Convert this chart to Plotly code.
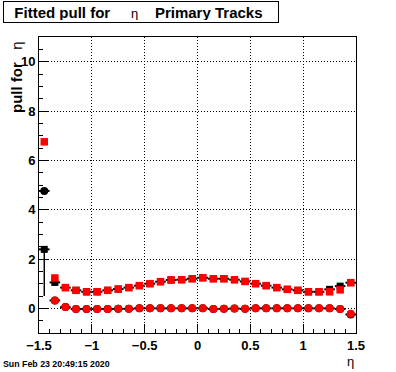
import plotly.graph_objects as go

eta = [-1.45, -1.35, -1.25, -1.15, -1.05, -0.95, -0.85, -0.75, -0.65, -0.55,
       -0.45, -0.35, -0.25, -0.15, -0.05, 0.05, 0.15, 0.25, 0.35, 0.45,
       0.55, 0.65, 0.75, 0.85, 0.95, 1.05, 1.15, 1.25, 1.35, 1.45]
eta_halfwidth = [0.05] * 30

# black: width (squares) and mean (circles), with errors
black_sigma = [2.39, 1.05, 0.84, 0.73, 0.67, 0.67, 0.73, 0.78, 0.84, 0.92,
               1.00, 1.08, 1.15, 1.16, 1.20, 1.24, 1.20, 1.20, 1.16, 1.09,
               1.00, 0.92, 0.84, 0.77, 0.73, 0.67, 0.67, 0.77, 0.90, 1.04]
black_sigma_err_minus = [1.89] + [0.0] * 29
black_mean = [4.76, 0.32, 0.05, -0.03, -0.03, -0.03, -0.03, -0.02, -0.02, 0.00,
              0.00, 0.00, 0.00, 0.00, 0.00, 0.00, -0.03, -0.02, -0.01, -0.02,
              0.00, 0.00, 0.00, 0.00, 0.00, 0.00, 0.00, 0.00, -0.03, -0.25]

# red: fitted values
red_sigma = [6.75, 1.23, 0.84, 0.73, 0.67, 0.67, 0.73, 0.78, 0.84, 0.92,
             1.00, 1.08, 1.15, 1.16, 1.20, 1.24, 1.20, 1.20, 1.16, 1.09,
             1.00, 0.92, 0.84, 0.77, 0.73, 0.67, 0.67, 0.67, 0.75, 1.04]
red_mean = [None, 0.32, 0.05, -0.03, -0.03, -0.03, -0.03, -0.02, -0.02, 0.00,
            0.00, 0.00, 0.00, 0.00, 0.00, 0.00, -0.03, -0.02, -0.01, -0.02,
            0.00, 0.00, 0.00, 0.00, 0.00, 0.00, 0.00, 0.00, -0.03, -0.22]

FONT = "Liberation Sans, Arial, Helvetica, sans-serif"

fig = go.Figure()
# downward error bars of the black width points (drawn as vertical segments)
for xi, yi, em in zip(eta, black_sigma, black_sigma_err_minus):
    if em > 0:
        fig.add_trace(go.Scatter(x=[xi, xi], y=[yi - em, yi], mode="lines",
                                 line=dict(color="black", width=1.5),
                                 showlegend=False, hoverinfo="skip"))
fig.add_trace(go.Scatter(
    x=eta, y=black_sigma, mode="markers",
    marker=dict(symbol="square", size=7, color="black"),
    error_x=dict(type="data", array=eta_halfwidth, color="black", thickness=2, width=0),
    showlegend=False))
fig.add_trace(go.Scatter(
    x=eta, y=black_mean, mode="markers",
    marker=dict(symbol="circle", size=8, color="black"),
    error_x=dict(type="data", array=eta_halfwidth, color="black", thickness=2, width=0),
    showlegend=False))
fig.add_trace(go.Scatter(
    x=eta, y=red_sigma, mode="markers",
    marker=dict(symbol="square", size=7.5, color="red"),
    showlegend=False))
fig.add_trace(go.Scatter(
    x=eta, y=red_mean, mode="markers",
    marker=dict(symbol="circle", size=8, color="red"),
    showlegend=False))

axis_common = dict(
    showline=True, linecolor="black", linewidth=1, mirror=True,
    ticks="inside", ticklen=9, tickcolor="black", tickwidth=1,
    showgrid=True, gridcolor="black", gridwidth=1, griddash="1px,2px",
    zeroline=False,
    tickfont=dict(family=FONT, size=13, color="black", weight="bold"),
)

fig.update_xaxes(range=[-1.5, 1.5], dtick=0.5, tick0=0,
                 minor=dict(ticks="inside", ticklen=4.5, dtick=0.1, tickcolor="black", showgrid=False),
                 **axis_common)
fig.update_yaxes(range=[-1, 11], dtick=2, tick0=0,
                 minor=dict(ticks="inside", ticklen=4, dtick=0.5, tickcolor="black", showgrid=False),
                 **axis_common)

fig.update_layout(
    width=396, height=372,
    margin=dict(l=39, r=40, t=37, b=39),
    paper_bgcolor="white", plot_bgcolor="white",
    font=dict(family=FONT, color="black"),
    hovermode=False,
)

# title box
fig.add_annotation(
    xref="paper", yref="paper", x=(3 - 39) / 317, y=1 + (37 - 1) / 296,
    xanchor="left", yanchor="top",
    text="&nbsp;&nbsp;<b>Fitted pull for</b>&nbsp;&nbsp;&nbsp;&nbsp;&nbsp;"
         "<span style='font-size:13px'>η</span>&nbsp;&nbsp;&nbsp;&nbsp;<b>Primary Tracks</b>",
    showarrow=False, align="left",
    font=dict(family=FONT, size=15, color="black"),
    bordercolor="black", borderwidth=1, bgcolor="white",
    width=270, height=16, borderpad=2,
)
# y-axis title
fig.add_annotation(
    xref="paper", yref="paper", x=(16 - 39) / 317, y=1 - (39 - 37) / 296,
    xanchor="center", yanchor="top", textangle=-90,
    text="<b>pull for</b>&nbsp;&nbsp;&nbsp;η",
    showarrow=False, font=dict(family=FONT, size=15, color="black"),
)
# x-axis title
fig.add_annotation(
    xref="paper", yref="paper", x=(350 - 39) / 317, y=-(361 - 333) / 296,
    xanchor="center", yanchor="middle",
    text="η", showarrow=False, font=dict(family=FONT, size=13, color="black"),
)
# date stamp
fig.add_annotation(
    xref="paper", yref="paper", x=(1 - 39) / 317, y=-(364 - 333) / 296,
    xanchor="left", yanchor="middle",
    text="<b>Sun Feb 23 20:49:15 2020</b>", showarrow=False,
    font=dict(family=FONT, size=8.8, color="black"),
)

fig.write_html("out.html", config={"displayModeBar": False, "staticPlot": True},
               post_script="document.body.style.margin='0';document.body.style.overflow='hidden';")
